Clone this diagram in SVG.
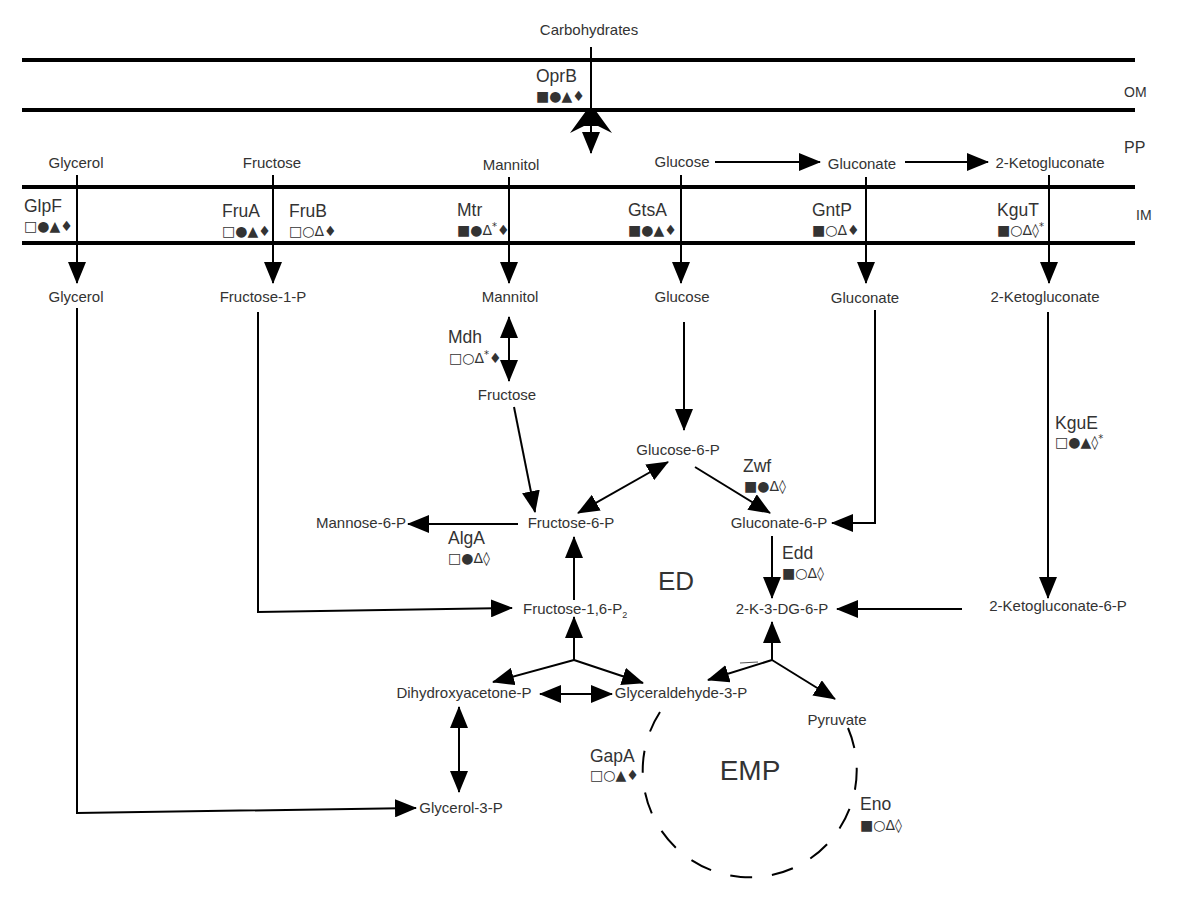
<svg xmlns="http://www.w3.org/2000/svg" width="1200" height="899" viewBox="0 0 1200 899">
<style>
text{font-family:"Liberation Sans",Arial,sans-serif;fill:#333}
.m{font-size:15px;text-anchor:middle}
.p{font-size:17.5px}
.s{font-size:14px;font-family:"DejaVu Sans",sans-serif;fill:#333}
.big{font-size:26px;text-anchor:middle}
.mem{stroke:#000;stroke-width:4}
.c{stroke:#000;stroke-width:2;fill:none}
</style>
<defs>
<marker id="ah" viewBox="0 0 22 18" refX="21" refY="9" markerWidth="22" markerHeight="18" markerUnits="userSpaceOnUse" orient="auto-start-reverse"><path d="M0,0 L22,9 L0,18 z" fill="#000"/></marker>
</defs>
<rect width="1200" height="899" fill="#fff"/>
<g id="membranes">
<line class="mem" x1="22" y1="60" x2="1135" y2="60"/>
<line class="mem" x1="22" y1="110" x2="1135" y2="110"/>
<line class="mem" x1="22" y1="187" x2="1135" y2="187"/>
<line class="mem" x1="22" y1="243" x2="1135" y2="243"/>
<text x="1124" y="97" style="font-size:14px">OM</text>
<text x="1124" y="153" style="font-size:16px">PP</text>
<text x="1136" y="220" style="font-size:14px">IM</text>
</g>
<g id="connectors">
<line class="c" x1="591" y1="47" x2="591" y2="153" marker-end="url(#ah)"/>
<path d="M586,111 L596,111 L612,133 L598,126 L584,126 L570,133 Z" fill="#000"/>
<line class="c" x1="715" y1="162" x2="820" y2="162" marker-end="url(#ah)"/>
<line class="c" x1="905" y1="162" x2="988" y2="162" marker-end="url(#ah)"/>
<line class="c" x1="77" y1="175" x2="77" y2="283" marker-end="url(#ah)"/>
<line class="c" x1="273" y1="175" x2="273" y2="283" marker-end="url(#ah)"/>
<line class="c" x1="509" y1="177" x2="509" y2="283" marker-end="url(#ah)"/>
<line class="c" x1="681" y1="175" x2="681" y2="283" marker-end="url(#ah)"/>
<line class="c" x1="866" y1="177" x2="866" y2="283" marker-end="url(#ah)"/>
<line class="c" x1="1049" y1="175" x2="1049" y2="283" marker-end="url(#ah)"/>
<polyline class="c" points="77,308 77,813 416,808" marker-end="url(#ah)"/>
<polyline class="c" points="258,312 258,612 512,608" marker-end="url(#ah)"/>
<line class="c" x1="509" y1="317" x2="509" y2="381" marker-start="url(#ah)" marker-end="url(#ah)"/>
<line class="c" x1="514" y1="407" x2="535" y2="512" marker-end="url(#ah)"/>
<line class="c" x1="684" y1="322" x2="684" y2="430" marker-end="url(#ah)"/>
<line class="c" x1="578" y1="513" x2="668" y2="462" marker-start="url(#ah)" marker-end="url(#ah)"/>
<line class="c" x1="695" y1="467" x2="770" y2="513" marker-end="url(#ah)"/>
<polyline class="c" points="875,310 875,523 832,523" marker-end="url(#ah)"/>
<line class="c" x1="772" y1="536" x2="772" y2="598" marker-end="url(#ah)"/>
<line class="c" x1="962" y1="609" x2="837" y2="609" marker-end="url(#ah)"/>
<line class="c" x1="1048" y1="312" x2="1048" y2="598" marker-end="url(#ah)"/>
<line class="c" x1="518" y1="524" x2="408" y2="524" marker-end="url(#ah)"/>
<line class="c" x1="574" y1="600" x2="574" y2="537" marker-end="url(#ah)"/>
<line class="c" x1="574" y1="660" x2="574" y2="617" marker-end="url(#ah)"/>
<line class="c" x1="574" y1="660" x2="493" y2="682" marker-end="url(#ah)"/>
<line class="c" x1="574" y1="660" x2="643" y2="683" marker-end="url(#ah)"/>
<line class="c" x1="540" y1="694" x2="612" y2="694" marker-start="url(#ah)" marker-end="url(#ah)"/>
<line class="c" x1="459" y1="707" x2="459" y2="792" marker-start="url(#ah)" marker-end="url(#ah)"/>
<line class="c" x1="772" y1="660" x2="772" y2="622" marker-end="url(#ah)"/>
<line class="c" x1="772" y1="660" x2="708" y2="680" marker-end="url(#ah)"/>
<line class="c" x1="772" y1="660" x2="835" y2="699" marker-end="url(#ah)"/>
<line x1="740" y1="663" x2="758" y2="662" stroke="#555" stroke-width="1.2"/>
<path class="c" d="M660,712 A107,107 0 1 0 848,728" stroke-dasharray="22,20"/>
</g>
<g id="top-labels">
<text class="m" x="589" y="35">Carbohydrates</text>
<text class="p" x="536" y="82">OprB</text>
<text class="s" x="536" y="101">■●▲♦</text>
</g>
<g id="pp">
<text class="m" x="76" y="168">Glycerol</text>
<text class="m" x="272" y="168">Fructose</text>
<text class="m" x="511" y="170">Mannitol</text>
<text class="m" x="682" y="167">Glucose</text>
<text class="m" x="862" y="169">Gluconate</text>
<text class="m" x="1050" y="168">2-Ketogluconate</text>
</g>
<g id="transporters">
<text class="p" x="24" y="212">GlpF</text>
<text class="s" x="24" y="231">□●▲♦</text>
<text class="p" x="222" y="217">FruA</text>
<text class="s" x="222" y="236">□●▲♦</text>
<text class="p" x="289" y="217">FruB</text>
<text class="s" x="289" y="236">□○Δ♦</text>
<text class="p" x="457" y="216">Mtr</text>
<text class="s" x="457" y="235">■●Δ<tspan dy="-5" font-size="10">*</tspan><tspan dy="5">♦</tspan></text>
<text class="p" x="628" y="216">GtsA</text>
<text class="s" x="628" y="235">■●▲♦</text>
<text class="p" x="812" y="216">GntP</text>
<text class="s" x="812" y="235">■○Δ♦</text>
<text class="p" x="997" y="216">KguT</text>
<text class="s" x="997" y="235">■○Δ◊<tspan dy="-5" font-size="10">*</tspan></text>
</g>
<g id="cytoplasm">
<text class="m" x="76" y="302">Glycerol</text>
<text class="m" x="263" y="302">Fructose-1-P</text>
<text class="m" x="510" y="302">Mannitol</text>
<text class="m" x="682" y="302">Glucose</text>
<text class="m" x="865" y="303">Gluconate</text>
<text class="m" x="1045" y="302">2-Ketogluconate</text>
<text class="p" x="448" y="343">Mdh</text>
<text class="s" x="449" y="363">□○Δ<tspan dy="-5" font-size="10">*</tspan><tspan dy="5">♦</tspan></text>
<text class="m" x="507" y="400">Fructose</text>
<text class="m" x="678" y="455">Glucose-6-P</text>
<text class="p" x="743" y="472">Zwf</text>
<text class="s" x="744" y="491">■●Δ◊</text>
<text class="p" x="1055" y="429">KguE</text>
<text class="s" x="1055" y="447">□●▲◊<tspan dy="-5" font-size="10">*</tspan></text>
<text class="m" x="571" y="528">Fructose-6-P</text>
<text class="m" x="361" y="528">Mannose-6-P</text>
<text class="p" x="448" y="544">AlgA</text>
<text class="s" x="448" y="563">□●Δ◊</text>
<text class="m" x="779" y="528">Gluconate-6-P</text>
<text class="p" x="782" y="559">Edd</text>
<text class="s" x="782" y="578">■○Δ◊</text>
<text class="big" x="676" y="590">ED</text>
<text x="523" y="614" style="font-size:15px">Fructose-1,6-P<tspan font-size="9" dy="4">2</tspan></text>
<text class="m" x="782" y="614">2-K-3-DG-6-P</text>
<text class="m" x="1058" y="611">2-Ketogluconate-6-P</text>
<text class="m" x="464" y="698">Dihydroxyacetone-P</text>
<text class="m" x="681" y="698">Glyceraldehyde-3-P</text>
<text class="m" x="837" y="725">Pyruvate</text>
<text class="m" x="461" y="813">Glycerol-3-P</text>
<text class="p" x="590" y="762">GapA</text>
<text class="s" x="590" y="780">□○▲♦</text>
<text class="big" x="750" y="780" style="font-size:28px">EMP</text>
<text class="p" x="860" y="810">Eno</text>
<text class="s" x="860" y="830">■○Δ◊</text>
</g>
</svg>
